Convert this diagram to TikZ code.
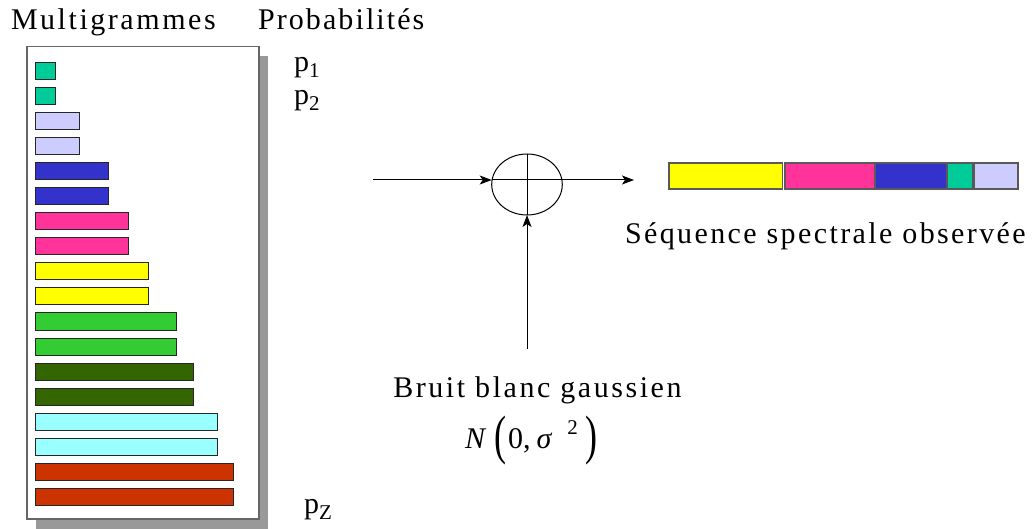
\documentclass[tikz,border=0pt]{standalone}
\usepackage{fontspec}
\setmainfont{Liberation Serif}
\usetikzlibrary{arrows.meta,shapes.geometric}
\definecolor{cteal}{HTML}{00CC99}
\definecolor{clav}{HTML}{CCCCFF}
\definecolor{cblue}{HTML}{3333CC}
\definecolor{cpink}{HTML}{FF3399}
\definecolor{cyel}{HTML}{FFFF00}
\definecolor{cgreen}{HTML}{33CC33}
\definecolor{cdkgreen}{HTML}{336600}
\definecolor{ccyan}{HTML}{99FFFF}
\definecolor{cred}{HTML}{CC3300}
\definecolor{cshadow}{HTML}{999999}
\definecolor{cframe}{HTML}{666666}
\tikzset{
  lbl/.style={inner sep=0pt, outer sep=0pt, anchor=base west,
    font=\fontsize{30}{36}\selectfont\addfontfeature{LetterSpace=7.5}},
  barbox/.style={draw=black!85, line width=1pt, inner sep=0pt, outer sep=0pt,
    minimum height=17pt, anchor=north west},
  segbox/.style={draw=black!65, line width=1.2pt, inner sep=0pt, outer sep=0pt,
    minimum height=26pt, anchor=north west},
  arr/.style={line width=1pt, -{Stealth[length=12pt,width=9pt,inset=3pt]}},
  thin line/.style={line width=1pt}
}
\begin{document}
\begin{tikzpicture}[x=1pt,y=-1pt]
\useasboundingbox (0,0) rectangle (1036,529);
% shadow and frame
\fill[cshadow] (36,56) rectangle (268,529);
\node[draw=cframe, fill=white, line width=1.2pt, inner sep=0pt, outer sep=0pt,
  minimum width=232pt, minimum height=472.5pt, anchor=north west] (frame) at (27,46.5) {};
% bars
\foreach \i/\c/\r in {1/cteal/55.7, 2/cteal/55.7, 3/clav/79, 4/clav/79,
  5/cblue/108.3, 6/cblue/108.3, 7/cpink/128.3, 8/cpink/128.3,
  9/cyel/148.3, 10/cyel/148.3, 11/cgreen/176.7, 12/cgreen/176.7,
  13/cdkgreen/193.3, 14/cdkgreen/193.3, 15/ccyan/217.7, 16/ccyan/217.7,
  17/cred/233.3, 18/cred/233.3}{
  \pgfmathsetmacro\w{\r-35}
  \pgfmathsetmacro\yy{63+25*(\i-1)}
  \node[barbox, fill=\c, minimum width=\w pt] (bar\i) at (35,\yy) {};
}
% headings and probabilities
\node[lbl, font=\fontsize{30}{36}\selectfont\addfontfeature{LetterSpace=8.5}] (multi) at (11,30) {Multigrammes};
\node[lbl, font=\fontsize{30}{36}\selectfont\addfontfeature{LetterSpace=7}] (proba) at (258,30) {Probabilités};
\node[lbl] (p1) at (294,71.5) {p\raisebox{-0.2em}{\fontsize{21}{21}\selectfont 1}};
\node[lbl] (p2) at (294,105) {p\raisebox{-0.2em}{\fontsize{21}{21}\selectfont 2}};
\node[lbl] (pz) at (304,513) {p\raisebox{-0.2em}{\fontsize{21}{21}\selectfont Z}};
% summing junction
\node[draw, thin line, ellipse, minimum width=70.6pt, minimum height=61pt,
  inner sep=0pt, outer sep=0pt] (sum) at (527,184.5) {};
\coordinate (in) at (373,180);
\coordinate (out) at (634,180);
\coordinate (noise) at (527,349);
\draw[thin line] (in -| sum.west) -- (in -| sum.east);
\draw[thin line] (sum.north) -- (sum.south);
\draw[arr] (in) -- (in -| sum.west);
\draw[arr] (out -| sum.east) -- (out);
\draw[arr] (noise) -- (sum.south);
% observed sequence
\node[segbox, fill=cyel, minimum width=113.3pt] (seq1) at (669,163) {};
\node[segbox, fill=cpink, minimum width=90pt] (seq2) at (785,163) {};
\node[segbox, fill=cblue, minimum width=72pt] (seq3) at (875,163) {};
\node[segbox, fill=cteal, minimum width=26pt] (seq4) at (947,163) {};
\node[segbox, fill=clav, minimum width=44pt] (seq5) at (974,163) {};
\node[lbl, font=\fontsize{30}{36}\selectfont\addfontfeature{LetterSpace=8}] (seqlbl) at (625,243.3) {Séquence spectrale observée};
% noise labels
\node[lbl, font=\fontsize{30}{36}\selectfont\addfontfeature{LetterSpace=8.5}] (bruit) at (393.3,397) {Bruit blanc gaussien};
\node[lbl, font=\fontsize{30}{36}\selectfont] (law) at (465,448) {\itshape N\upshape\hspace{9pt}\raisebox{-5.5pt}{\scalebox{1.2}[1.8]{(}}\hspace{2pt}0,\hspace{6pt}{\itshape σ}\hspace{16pt}\raisebox{0.45em}{\fontsize{21}{21}\selectfont 2}\hspace{8pt}\raisebox{-5.5pt}{\scalebox{1.2}[1.8]{)}}};
\end{tikzpicture}
\end{document}
